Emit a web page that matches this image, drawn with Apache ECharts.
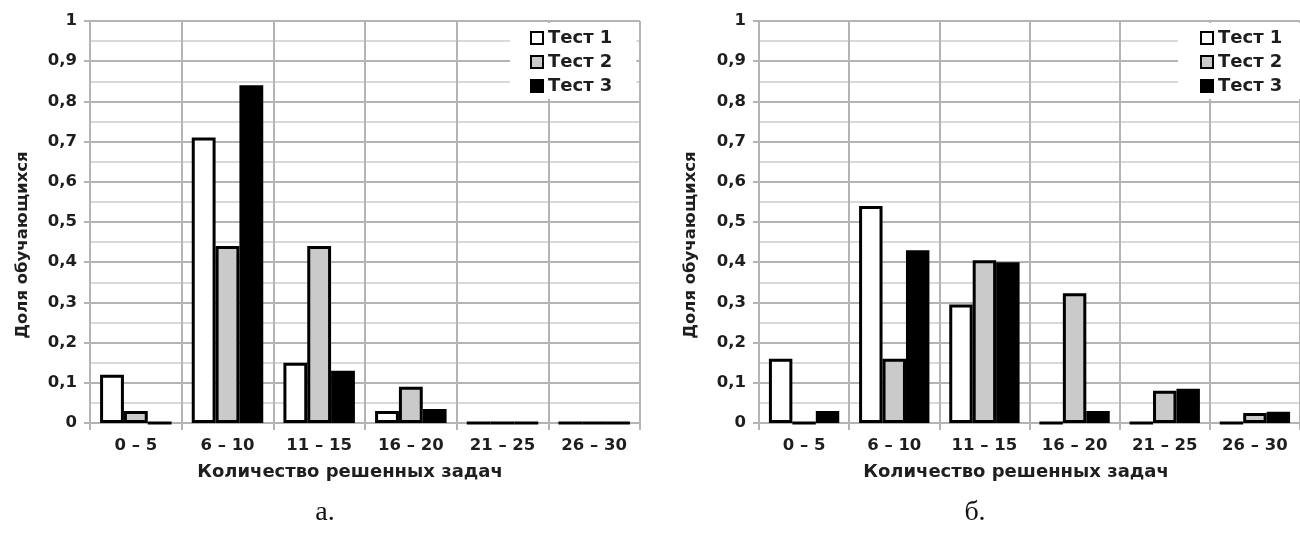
<!DOCTYPE html>
<html>
<head>
<meta charset="utf-8">
<script src="https://cdn.jsdelivr.net/npm/echarts@6/dist/echarts.min.js"></script>
<style>
  html, body { margin: 0; padding: 0; background: #fff; }
  #chart { width: 1300px; height: 536px; }
</style>
</head>
<body>
<div id="chart"></div>
<script>
// ---- data ----
const categories = ['0 – 5', '6 – 10', '11 – 15', '16 – 20', '21 – 25', '26 – 30'];
const seriesNames = ['Тест 1', 'Тест 2', 'Тест 3'];
// chart "а."
const chartA_test1 = [0.12, 0.71, 0.15, 0.03, 0, 0];
const chartA_test2 = [0.03, 0.44, 0.44, 0.09, 0, 0];
const chartA_test3 = [0, 0.84, 0.13, 0.035, 0, 0];
// chart "б."
const chartB_test1 = [0.16, 0.54, 0.295, 0, 0, 0];
const chartB_test2 = [0, 0.16, 0.405, 0.323, 0.08, 0.025];
const chartB_test3 = [0.03, 0.43, 0.40, 0.03, 0.085, 0.028];
const yAxisTitle = 'Доля обучающихся';
const xAxisTitle = 'Количество решенных задач';
const captions = ['а.', 'б.'];

// ---- styles ----
const FONT = 'DejaVu Sans';
const TXT = '#1e1e1e';
const MAJOR = '#b4b4b4';
const MINOR = '#d9d9d9';
const fills = ['#ffffff', '#cacaca', '#000000'];

function xAxisCfg(gridIndex) {
  return {
    type: 'category', gridIndex, data: categories, boundaryGap: true,
    axisLine: { show: true, lineStyle: { color: MAJOR, width: 2 } },
    axisTick: { show: true, length: 7, lineStyle: { color: MAJOR, width: 2 } },
    axisLabel: { margin: 14, color: TXT, fontFamily: FONT, fontWeight: 'bold', fontSize: 16.5 },
    splitLine: { show: true, lineStyle: { color: MAJOR, width: 2 } }
  };
}
function yAxisCfg(gridIndex) {
  return {
    type: 'value', gridIndex, min: 0, max: 1, interval: 0.1,
    axisLine: { show: true, lineStyle: { color: MAJOR, width: 2 } },
    axisTick: { show: true, length: 6, lineStyle: { color: MAJOR, width: 2 } },
    axisLabel: { margin: 13, color: TXT, fontFamily: FONT, fontWeight: 'bold', fontSize: 16.5,
      formatter: v => String(Math.round(v * 10) / 10).replace('.', ',') },
    splitLine: { show: true, lineStyle: { color: MAJOR, width: 2 } },
    minorTick: { show: false, splitNumber: 2 },
    minorSplitLine: { show: true, lineStyle: { color: MINOR, width: 2 } }
  };
}
function barSeries(name, data, idx, axisIdx) {
  return {
    type: 'bar', name, data, xAxisIndex: axisIdx, yAxisIndex: axisIdx,
    barGap: '0%', barCategoryGap: '22%',
    itemStyle: { color: fills[idx], borderColor: '#000', borderWidth: 3 },
    emphasis: { disabled: true },
    animation: false
  };
}
function legendCfg(left, padding) {
  return {
    orient: 'vertical', left, top: 23, padding,
    backgroundColor: '#ffffff',
    itemWidth: 12, itemHeight: 12, itemGap: 6,
    icon: 'rect',
    data: seriesNames,
    itemStyle: { borderColor: '#000', borderWidth: 2 },
    textStyle: { color: TXT, fontFamily: FONT, fontWeight: 'bold', fontSize: 18, lineHeight: 18 }
  };
}
function txt(text, x, y, opts) {
  return Object.assign({
    type: 'text', x, y,
    style: Object.assign({ text, fill: TXT, font: 'bold 16px "DejaVu Sans"', align: 'center', verticalAlign: 'middle' }, opts && opts.style || {})
  }, opts && opts.extra || {});
}

const chart = echarts.init(document.getElementById('chart'), null, { renderer: 'canvas' });
chart.setOption({
  animation: false,
  backgroundColor: '#ffffff',
  grid: [
    { left: 90, top: 21, width: 550, height: 402, containLabel: false },
    { left: 759, top: 21, width: 548, height: 402, containLabel: false }
  ],
  xAxis: [xAxisCfg(0), xAxisCfg(1)],
  yAxis: [yAxisCfg(0), yAxisCfg(1)],
  legend: [
    legendCfg(510, [6, 24, 4, 20]),
    legendCfg(1178, [6, 40, 4, 22])
  ],
  series: [
    barSeries(seriesNames[0], chartA_test1, 0, 0),
    barSeries(seriesNames[1], chartA_test2, 1, 0),
    barSeries(seriesNames[2], chartA_test3, 2, 0),
    barSeries(seriesNames[0], chartB_test1, 0, 1),
    barSeries(seriesNames[1], chartB_test2, 1, 1),
    barSeries(seriesNames[2], chartB_test3, 2, 1)
  ],
  graphic: [
    txt(yAxisTitle, 23, 245, { extra: { rotation: Math.PI / 2 }, style: { font: 'bold 16.5px "DejaVu Sans"' } }),
    txt(yAxisTitle, 691, 245, { extra: { rotation: Math.PI / 2 }, style: { font: 'bold 16.5px "DejaVu Sans"' } }),
    txt(xAxisTitle, 350, 472, { style: { font: 'bold 18px "DejaVu Sans"' } }),
    txt(xAxisTitle, 1016, 472, { style: { font: 'bold 18px "DejaVu Sans"' } }),
    txt(captions[0], 325, 513, { style: { font: '28px "Liberation Serif"', fill: '#111' } }),
    txt(captions[1], 975, 513, { style: { font: '28px "Liberation Serif"', fill: '#111' } })
  ]
});
</script>
</body>
</html>
